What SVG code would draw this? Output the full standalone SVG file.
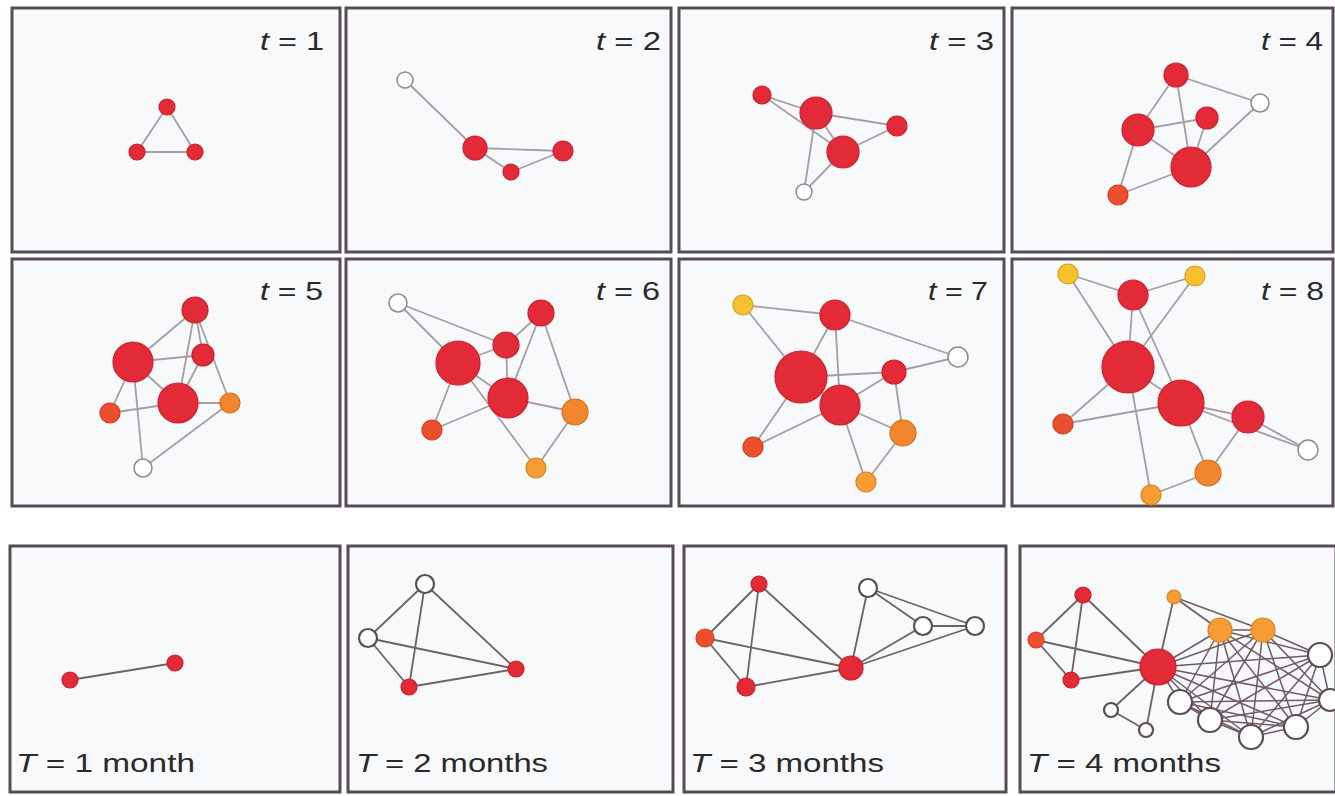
<svg xmlns="http://www.w3.org/2000/svg" width="1335" height="796" viewBox="0 0 1335 796">
<style>
.bg{fill:#ffffff}
.panel{fill:#f8f9fb;stroke:#564c56;stroke-width:3}
.e{stroke:#a59fa5;stroke-width:1.8;fill:none}
.e2{stroke:#6f6168;stroke-width:1.8;fill:none}
.e3{stroke:#6f5a66;stroke-width:1.5;fill:none}
.r{fill:#e32a37;stroke:#cc1e2c;stroke-width:1.2}
.or{fill:#ec4f2e;stroke:#d43f22;stroke-width:1.2}
.o{fill:#f2862c;stroke:#d96f1c;stroke-width:1.2}
.lo{fill:#f59d33;stroke:#db8424;stroke-width:1.2}
.y{fill:#f5c12f;stroke:#d9a41e;stroke-width:1.2}
.w{fill:#ffffff;stroke:#8e8a8e;stroke-width:1.5}
.w2{fill:#ffffff;stroke:#5a4e54;stroke-width:2.2}
.lbl{font-family:"Liberation Sans",Arial,sans-serif;font-size:25px;fill:#2a2a2a}
.lbl2{font-family:"Liberation Sans",Arial,sans-serif;font-size:26px;fill:#2a2a2a}
.it{font-style:italic}
</style>
<rect class="bg" x="0" y="0" width="1335" height="796"/>

<g id="frames">
<rect class="panel" x="12" y="8" width="328" height="244"/>
<rect class="panel" x="346" y="8" width="325" height="244"/>
<rect class="panel" x="679" y="8" width="325" height="244"/>
<rect class="panel" x="1012" y="8" width="321" height="244"/>
<rect class="panel" x="12" y="259" width="328" height="247"/>
<rect class="panel" x="346" y="259" width="325" height="247"/>
<rect class="panel" x="679" y="259" width="325" height="247"/>
<rect class="panel" x="1012" y="259" width="321" height="247"/>
<rect class="panel" x="10" y="546" width="330" height="246"/>
<rect class="panel" x="348" y="546" width="325" height="246"/>
<rect class="panel" x="684" y="546" width="322" height="246"/>
<rect class="panel" x="1020" y="546" width="316" height="246"/>
</g>

<g id="labels">
<text class="lbl" x="260" y="50" textLength="64" lengthAdjust="spacingAndGlyphs"><tspan class="it">t</tspan> = 1</text>
<text class="lbl" x="596" y="50" textLength="65" lengthAdjust="spacingAndGlyphs"><tspan class="it">t</tspan> = 2</text>
<text class="lbl" x="929" y="50" textLength="65" lengthAdjust="spacingAndGlyphs"><tspan class="it">t</tspan> = 3</text>
<text class="lbl" x="1261" y="50" textLength="62" lengthAdjust="spacingAndGlyphs"><tspan class="it">t</tspan> = 4</text>
<text class="lbl" x="260" y="300" textLength="63" lengthAdjust="spacingAndGlyphs"><tspan class="it">t</tspan> = 5</text>
<text class="lbl" x="596" y="300" textLength="64" lengthAdjust="spacingAndGlyphs"><tspan class="it">t</tspan> = 6</text>
<text class="lbl" x="928" y="300" textLength="60" lengthAdjust="spacingAndGlyphs"><tspan class="it">t</tspan> = 7</text>
<text class="lbl" x="1261" y="300" textLength="63" lengthAdjust="spacingAndGlyphs"><tspan class="it">t</tspan> = 8</text>
<text class="lbl2" x="16" y="772" textLength="179" lengthAdjust="spacingAndGlyphs"><tspan class="it">T</tspan> = 1 month</text>
<text class="lbl2" x="356" y="772" textLength="192" lengthAdjust="spacingAndGlyphs"><tspan class="it">T</tspan> = 2 months</text>
<text class="lbl2" x="690" y="772" textLength="194" lengthAdjust="spacingAndGlyphs"><tspan class="it">T</tspan> = 3 months</text>
<text class="lbl2" x="1027" y="772" textLength="194" lengthAdjust="spacingAndGlyphs"><tspan class="it">T</tspan> = 4 months</text>
</g>

<g id="connectors">
<line class="e" x1="167" y1="107" x2="137" y2="152"/>
<line class="e" x1="167" y1="107" x2="195" y2="152"/>
<line class="e" x1="137" y1="152" x2="195" y2="152"/>
<line class="e" x1="405" y1="80" x2="475" y2="148"/>
<line class="e" x1="475" y1="148" x2="511" y2="172"/>
<line class="e" x1="475" y1="148" x2="563" y2="151"/>
<line class="e" x1="511" y1="172" x2="563" y2="151"/>
<line class="e" x1="762" y1="95" x2="816" y2="113"/>
<line class="e" x1="762" y1="95" x2="843" y2="152"/>
<line class="e" x1="816" y1="113" x2="897" y2="126"/>
<line class="e" x1="843" y1="152" x2="897" y2="126"/>
<line class="e" x1="816" y1="113" x2="843" y2="152"/>
<line class="e" x1="816" y1="113" x2="804" y2="192"/>
<line class="e" x1="843" y1="152" x2="804" y2="192"/>
<line class="e" x1="1176" y1="75" x2="1260" y2="103"/>
<line class="e" x1="1176" y1="75" x2="1138" y2="130"/>
<line class="e" x1="1176" y1="75" x2="1191" y2="167"/>
<line class="e" x1="1138" y1="130" x2="1207" y2="118"/>
<line class="e" x1="1138" y1="130" x2="1191" y2="167"/>
<line class="e" x1="1138" y1="130" x2="1118" y2="195"/>
<line class="e" x1="1118" y1="195" x2="1191" y2="167"/>
<line class="e" x1="1207" y1="118" x2="1191" y2="167"/>
<line class="e" x1="1260" y1="103" x2="1191" y2="167"/>
<line class="e" x1="195" y1="310" x2="133" y2="362"/>
<line class="e" x1="195" y1="310" x2="203" y2="355"/>
<line class="e" x1="195" y1="310" x2="178" y2="403"/>
<line class="e" x1="195" y1="310" x2="230" y2="403"/>
<line class="e" x1="133" y1="362" x2="203" y2="355"/>
<line class="e" x1="133" y1="362" x2="178" y2="403"/>
<line class="e" x1="133" y1="362" x2="110" y2="413"/>
<line class="e" x1="133" y1="362" x2="143" y2="468"/>
<line class="e" x1="110" y1="413" x2="178" y2="403"/>
<line class="e" x1="178" y1="403" x2="230" y2="403"/>
<line class="e" x1="230" y1="403" x2="143" y2="468"/>
<line class="e" x1="203" y1="355" x2="178" y2="403"/>
<line class="e" x1="398" y1="303" x2="506" y2="345"/>
<line class="e" x1="398" y1="303" x2="458" y2="363"/>
<line class="e" x1="541" y1="313" x2="506" y2="345"/>
<line class="e" x1="541" y1="313" x2="508" y2="398"/>
<line class="e" x1="541" y1="313" x2="575" y2="412"/>
<line class="e" x1="506" y1="345" x2="458" y2="363"/>
<line class="e" x1="506" y1="345" x2="508" y2="398"/>
<line class="e" x1="458" y1="363" x2="508" y2="398"/>
<line class="e" x1="458" y1="363" x2="432" y2="430"/>
<line class="e" x1="458" y1="363" x2="536" y2="468"/>
<line class="e" x1="508" y1="398" x2="432" y2="430"/>
<line class="e" x1="508" y1="398" x2="575" y2="412"/>
<line class="e" x1="575" y1="412" x2="536" y2="468"/>
<line class="e" x1="743" y1="305" x2="835" y2="315"/>
<line class="e" x1="743" y1="305" x2="801" y2="377"/>
<line class="e" x1="835" y1="315" x2="958" y2="357"/>
<line class="e" x1="835" y1="315" x2="801" y2="377"/>
<line class="e" x1="835" y1="315" x2="840" y2="405"/>
<line class="e" x1="958" y1="357" x2="894" y2="372"/>
<line class="e" x1="801" y1="377" x2="894" y2="372"/>
<line class="e" x1="801" y1="377" x2="840" y2="405"/>
<line class="e" x1="801" y1="377" x2="753" y2="447"/>
<line class="e" x1="840" y1="405" x2="753" y2="447"/>
<line class="e" x1="840" y1="405" x2="894" y2="372"/>
<line class="e" x1="840" y1="405" x2="903" y2="433"/>
<line class="e" x1="840" y1="405" x2="866" y2="482"/>
<line class="e" x1="894" y1="372" x2="903" y2="433"/>
<line class="e" x1="903" y1="433" x2="866" y2="482"/>
<line class="e" x1="1068" y1="274" x2="1133" y2="295"/>
<line class="e" x1="1068" y1="274" x2="1128" y2="367"/>
<line class="e" x1="1195" y1="276" x2="1133" y2="295"/>
<line class="e" x1="1195" y1="276" x2="1128" y2="367"/>
<line class="e" x1="1133" y1="295" x2="1128" y2="367"/>
<line class="e" x1="1133" y1="295" x2="1181" y2="403"/>
<line class="e" x1="1128" y1="367" x2="1181" y2="403"/>
<line class="e" x1="1128" y1="367" x2="1063" y2="424"/>
<line class="e" x1="1128" y1="367" x2="1151" y2="495"/>
<line class="e" x1="1063" y1="424" x2="1181" y2="403"/>
<line class="e" x1="1181" y1="403" x2="1248" y2="417"/>
<line class="e" x1="1181" y1="403" x2="1308" y2="450"/>
<line class="e" x1="1248" y1="417" x2="1308" y2="450"/>
<line class="e" x1="1181" y1="403" x2="1208" y2="473"/>
<line class="e" x1="1248" y1="417" x2="1208" y2="473"/>
<line class="e" x1="1208" y1="473" x2="1151" y2="495"/>
<line class="e2" x1="70" y1="680" x2="175" y2="663"/>
<line class="e2" x1="425" y1="584" x2="368" y2="638"/>
<line class="e2" x1="425" y1="584" x2="409" y2="687"/>
<line class="e2" x1="425" y1="584" x2="516" y2="669"/>
<line class="e2" x1="368" y1="638" x2="516" y2="669"/>
<line class="e2" x1="368" y1="638" x2="409" y2="687"/>
<line class="e2" x1="409" y1="687" x2="516" y2="669"/>
<line class="e2" x1="759" y1="584" x2="705" y2="638"/>
<line class="e2" x1="759" y1="584" x2="746" y2="687"/>
<line class="e2" x1="759" y1="584" x2="851" y2="668"/>
<line class="e2" x1="705" y1="638" x2="851" y2="668"/>
<line class="e2" x1="705" y1="638" x2="746" y2="687"/>
<line class="e2" x1="746" y1="687" x2="851" y2="668"/>
<line class="e2" x1="851" y1="668" x2="868" y2="588"/>
<line class="e2" x1="851" y1="668" x2="923" y2="626"/>
<line class="e2" x1="851" y1="668" x2="975" y2="626"/>
<line class="e2" x1="868" y1="588" x2="923" y2="626"/>
<line class="e2" x1="868" y1="588" x2="975" y2="626"/>
<line class="e2" x1="923" y1="626" x2="975" y2="626"/>
<line class="e2" x1="1083" y1="595" x2="1036" y2="640"/>
<line class="e2" x1="1083" y1="595" x2="1071" y2="680"/>
<line class="e2" x1="1083" y1="595" x2="1158" y2="667"/>
<line class="e2" x1="1036" y1="640" x2="1158" y2="667"/>
<line class="e2" x1="1036" y1="640" x2="1071" y2="680"/>
<line class="e2" x1="1071" y1="680" x2="1158" y2="667"/>
<line class="e2" x1="1158" y1="667" x2="1174" y2="597"/>
<line class="e2" x1="1158" y1="667" x2="1111" y2="710"/>
<line class="e2" x1="1158" y1="667" x2="1146" y2="730"/>
<line class="e2" x1="1111" y1="710" x2="1146" y2="730"/>
<line class="e2" x1="1174" y1="597" x2="1220" y2="630"/>
<line class="e2" x1="1174" y1="597" x2="1263" y2="630"/>
<line class="e3" x1="1158" y1="667" x2="1220" y2="630"/>
<line class="e3" x1="1158" y1="667" x2="1263" y2="630"/>
<line class="e3" x1="1158" y1="667" x2="1320" y2="655"/>
<line class="e3" x1="1158" y1="667" x2="1330" y2="700"/>
<line class="e3" x1="1158" y1="667" x2="1296" y2="727"/>
<line class="e3" x1="1158" y1="667" x2="1251" y2="737"/>
<line class="e3" x1="1158" y1="667" x2="1210" y2="720"/>
<line class="e3" x1="1158" y1="667" x2="1180" y2="702"/>
<line class="e3" x1="1220" y1="630" x2="1263" y2="630"/>
<line class="e3" x1="1220" y1="630" x2="1320" y2="655"/>
<line class="e3" x1="1220" y1="630" x2="1330" y2="700"/>
<line class="e3" x1="1220" y1="630" x2="1296" y2="727"/>
<line class="e3" x1="1220" y1="630" x2="1251" y2="737"/>
<line class="e3" x1="1220" y1="630" x2="1210" y2="720"/>
<line class="e3" x1="1220" y1="630" x2="1180" y2="702"/>
<line class="e3" x1="1263" y1="630" x2="1320" y2="655"/>
<line class="e3" x1="1263" y1="630" x2="1330" y2="700"/>
<line class="e3" x1="1263" y1="630" x2="1296" y2="727"/>
<line class="e3" x1="1263" y1="630" x2="1251" y2="737"/>
<line class="e3" x1="1263" y1="630" x2="1210" y2="720"/>
<line class="e3" x1="1263" y1="630" x2="1180" y2="702"/>
<line class="e3" x1="1320" y1="655" x2="1330" y2="700"/>
<line class="e3" x1="1320" y1="655" x2="1296" y2="727"/>
<line class="e3" x1="1320" y1="655" x2="1251" y2="737"/>
<line class="e3" x1="1320" y1="655" x2="1210" y2="720"/>
<line class="e3" x1="1320" y1="655" x2="1180" y2="702"/>
<line class="e3" x1="1330" y1="700" x2="1296" y2="727"/>
<line class="e3" x1="1330" y1="700" x2="1251" y2="737"/>
<line class="e3" x1="1330" y1="700" x2="1210" y2="720"/>
<line class="e3" x1="1330" y1="700" x2="1180" y2="702"/>
<line class="e3" x1="1296" y1="727" x2="1251" y2="737"/>
<line class="e3" x1="1296" y1="727" x2="1210" y2="720"/>
<line class="e3" x1="1296" y1="727" x2="1180" y2="702"/>
<line class="e3" x1="1251" y1="737" x2="1210" y2="720"/>
<line class="e3" x1="1251" y1="737" x2="1180" y2="702"/>
<line class="e3" x1="1210" y1="720" x2="1180" y2="702"/>
</g>

<g id="nodes">
<g id="p1n1"><circle class="r" cx="167" cy="107" r="8"/></g>
<g id="p1n2"><circle class="r" cx="137" cy="152" r="8"/></g>
<g id="p1n3"><circle class="r" cx="195" cy="152" r="8"/></g>
<g id="p2n1"><circle class="w" cx="405" cy="80" r="8"/></g>
<g id="p2n2"><circle class="r" cx="475" cy="148" r="12"/></g>
<g id="p2n3"><circle class="r" cx="511" cy="172" r="8"/></g>
<g id="p2n4"><circle class="r" cx="563" cy="151" r="10"/></g>
<g id="p3n1"><circle class="r" cx="762" cy="95" r="9"/></g>
<g id="p3n2"><circle class="r" cx="816" cy="113" r="16"/></g>
<g id="p3n3"><circle class="r" cx="897" cy="126" r="10"/></g>
<g id="p3n4"><circle class="r" cx="843" cy="152" r="16"/></g>
<g id="p3n5"><circle class="w" cx="804" cy="192" r="8"/></g>
<g id="p4n1"><circle class="r" cx="1176" cy="75" r="12"/></g>
<g id="p4n2"><circle class="w" cx="1260" cy="103" r="9"/></g>
<g id="p4n3"><circle class="r" cx="1138" cy="130" r="16"/></g>
<g id="p4n4"><circle class="r" cx="1207" cy="118" r="11"/></g>
<g id="p4n5"><circle class="r" cx="1191" cy="167" r="20"/></g>
<g id="p4n6"><circle class="or" cx="1118" cy="195" r="10"/></g>
<g id="p5n1"><circle class="r" cx="195" cy="310" r="13"/></g>
<g id="p5n2"><circle class="r" cx="133" cy="362" r="20"/></g>
<g id="p5n3"><circle class="r" cx="203" cy="355" r="11"/></g>
<g id="p5n4"><circle class="r" cx="178" cy="403" r="20"/></g>
<g id="p5n5"><circle class="or" cx="110" cy="413" r="10"/></g>
<g id="p5n6"><circle class="o" cx="230" cy="403" r="10"/></g>
<g id="p5n7"><circle class="w" cx="143" cy="468" r="9"/></g>
<g id="p6n1"><circle class="w" cx="398" cy="303" r="9"/></g>
<g id="p6n2"><circle class="r" cx="541" cy="313" r="13"/></g>
<g id="p6n3"><circle class="r" cx="506" cy="345" r="13"/></g>
<g id="p6n4"><circle class="r" cx="458" cy="363" r="22"/></g>
<g id="p6n5"><circle class="r" cx="508" cy="398" r="20"/></g>
<g id="p6n6"><circle class="o" cx="575" cy="412" r="13"/></g>
<g id="p6n7"><circle class="or" cx="432" cy="430" r="10"/></g>
<g id="p6n8"><circle class="lo" cx="536" cy="468" r="10"/></g>
<g id="p7n1"><circle class="y" cx="743" cy="305" r="10"/></g>
<g id="p7n2"><circle class="r" cx="835" cy="315" r="15"/></g>
<g id="p7n3"><circle class="w" cx="958" cy="357" r="10"/></g>
<g id="p7n4"><circle class="r" cx="801" cy="377" r="26"/></g>
<g id="p7n5"><circle class="r" cx="894" cy="372" r="12"/></g>
<g id="p7n6"><circle class="r" cx="840" cy="405" r="20"/></g>
<g id="p7n7"><circle class="o" cx="903" cy="433" r="13"/></g>
<g id="p7n8"><circle class="or" cx="753" cy="447" r="10"/></g>
<g id="p7n9"><circle class="lo" cx="866" cy="482" r="10"/></g>
<g id="p8n1"><circle class="y" cx="1068" cy="274" r="10"/></g>
<g id="p8n2"><circle class="y" cx="1195" cy="276" r="10"/></g>
<g id="p8n3"><circle class="r" cx="1133" cy="295" r="15"/></g>
<g id="p8n4"><circle class="r" cx="1128" cy="367" r="26"/></g>
<g id="p8n5"><circle class="r" cx="1181" cy="403" r="23"/></g>
<g id="p8n6"><circle class="r" cx="1248" cy="417" r="16"/></g>
<g id="p8n7"><circle class="w" cx="1308" cy="450" r="10"/></g>
<g id="p8n8"><circle class="or" cx="1063" cy="424" r="10"/></g>
<g id="p8n9"><circle class="o" cx="1208" cy="473" r="13"/></g>
<g id="p8n10"><circle class="lo" cx="1151" cy="495" r="10"/></g>
<g id="p9n1"><circle class="r" cx="70" cy="680" r="8"/></g>
<g id="p9n2"><circle class="r" cx="175" cy="663" r="8"/></g>
<g id="p10n1"><circle class="w2" cx="425" cy="584" r="9"/></g>
<g id="p10n2"><circle class="w2" cx="368" cy="638" r="9"/></g>
<g id="p10n3"><circle class="r" cx="409" cy="687" r="8"/></g>
<g id="p10n4"><circle class="r" cx="516" cy="669" r="8"/></g>
<g id="p11n1"><circle class="r" cx="759" cy="584" r="8"/></g>
<g id="p11n2"><circle class="or" cx="705" cy="638" r="9"/></g>
<g id="p11n3"><circle class="r" cx="746" cy="687" r="9"/></g>
<g id="p11n4"><circle class="r" cx="851" cy="668" r="12"/></g>
<g id="p11n5"><circle class="w2" cx="868" cy="588" r="9"/></g>
<g id="p11n6"><circle class="w2" cx="923" cy="626" r="9"/></g>
<g id="p11n7"><circle class="w2" cx="975" cy="626" r="9"/></g>
<g id="p12n1"><circle class="r" cx="1083" cy="595" r="8"/></g>
<g id="p12n2"><circle class="or" cx="1036" cy="640" r="8"/></g>
<g id="p12n3"><circle class="r" cx="1071" cy="680" r="8"/></g>
<g id="p12n4"><circle class="r" cx="1158" cy="667" r="18"/></g>
<g id="p12n5"><circle class="lo" cx="1174" cy="597" r="7"/></g>
<g id="p12n6"><circle class="lo" cx="1220" cy="630" r="12"/></g>
<g id="p12n7"><circle class="lo" cx="1263" cy="630" r="12"/></g>
<g id="p12n8"><circle class="w2" cx="1111" cy="710" r="7"/></g>
<g id="p12n9"><circle class="w2" cx="1146" cy="730" r="7"/></g>
<g id="p12n10"><circle class="w2" cx="1320" cy="655" r="12"/></g>
<g id="p12n11"><circle class="w2" cx="1330" cy="700" r="11"/></g>
<g id="p12n12"><circle class="w2" cx="1296" cy="727" r="12"/></g>
<g id="p12n13"><circle class="w2" cx="1251" cy="737" r="12"/></g>
<g id="p12n14"><circle class="w2" cx="1210" cy="720" r="12"/></g>
<g id="p12n15"><circle class="w2" cx="1180" cy="702" r="12"/></g>
</g>
</svg>
